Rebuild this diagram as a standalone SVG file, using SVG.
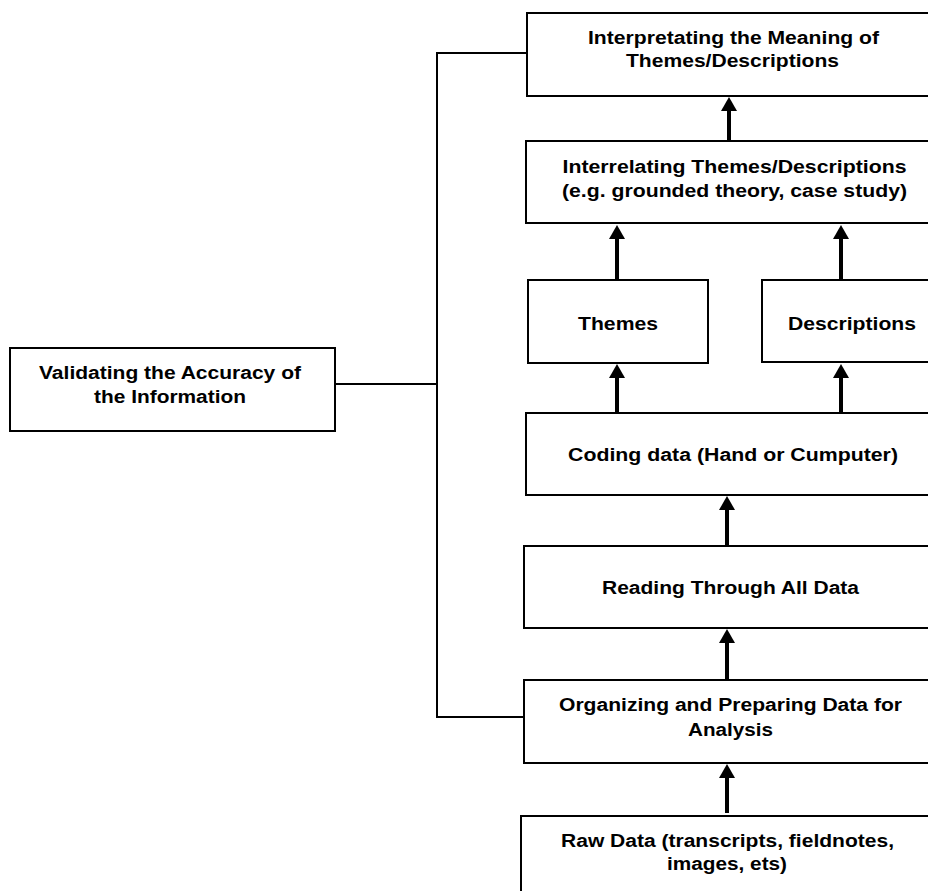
<svg xmlns="http://www.w3.org/2000/svg" width="928" height="891" viewBox="0 0 928 891">
  <style>
    .box { fill: #ffffff; stroke: #000000; stroke-width: 2; }
    .lbl { font-family: "Liberation Sans", Arial, sans-serif; font-weight: bold; font-size: 18px; fill: #000000; text-anchor: middle; }
    .link { fill: none; stroke: #000000; stroke-width: 2; }
    .arrow { fill: none; stroke: #000000; stroke-width: 4; marker-end: url(#head); }
  </style>
  <defs>
    <marker id="head" viewBox="0 0 14 16" markerWidth="14" markerHeight="16" refX="4" refY="8" orient="auto" markerUnits="userSpaceOnUse">
      <path d="M0,0 L14,8 L0,16 z" fill="#000000"/>
    </marker>
  </defs>
  <rect width="928" height="891" fill="#ffffff"/>

  <g id="connectors">
    <polyline class="link" points="527,53 437,53 437,717 524,717"/>
    <line class="link" x1="335" y1="384" x2="437" y2="384"/>
    <line class="arrow" x1="729" y1="141" x2="729" y2="107"/>
    <line class="arrow" x1="617" y1="280" x2="617" y2="235"/>
    <line class="arrow" x1="841" y1="280" x2="841" y2="235"/>
    <line class="arrow" x1="617" y1="413" x2="617" y2="374"/>
    <line class="arrow" x1="841" y1="413" x2="841" y2="374"/>
    <line class="arrow" x1="727" y1="546" x2="727" y2="506"/>
    <line class="arrow" x1="727" y1="679" x2="727" y2="639"/>
    <line class="arrow" x1="727" y1="813" x2="727" y2="774"/>
  </g>

  <g id="interpreting">
    <rect class="box" x="527" y="13" width="412" height="83"/>
    <text class="lbl" x="733.5" y="44" textLength="291" lengthAdjust="spacingAndGlyphs">Interpretating the Meaning of</text>
    <text class="lbl" x="732.5" y="67" textLength="213" lengthAdjust="spacingAndGlyphs">Themes/Descriptions</text>
  </g>

  <g id="interrelating">
    <rect class="box" x="526" y="141" width="415" height="82"/>
    <text class="lbl" x="734.5" y="173" textLength="344" lengthAdjust="spacingAndGlyphs">Interrelating Themes/Descriptions</text>
    <text class="lbl" x="734.5" y="197" textLength="345" lengthAdjust="spacingAndGlyphs">(e.g. grounded theory, case study)</text>
  </g>

  <g id="themes">
    <rect class="box" x="528" y="280" width="180" height="83"/>
    <text class="lbl" x="618" y="330" textLength="80" lengthAdjust="spacingAndGlyphs">Themes</text>
  </g>

  <g id="descriptions">
    <rect class="box" x="762" y="280" width="180" height="82"/>
    <text class="lbl" x="852" y="330" textLength="128" lengthAdjust="spacingAndGlyphs">Descriptions</text>
  </g>

  <g id="coding">
    <rect class="box" x="526" y="413" width="414" height="82"/>
    <text class="lbl" x="733" y="461" textLength="330" lengthAdjust="spacingAndGlyphs">Coding data (Hand or Cumputer)</text>
  </g>

  <g id="reading">
    <rect class="box" x="524" y="546" width="414" height="82"/>
    <text class="lbl" x="730.5" y="594" textLength="257" lengthAdjust="spacingAndGlyphs">Reading Through All Data</text>
  </g>

  <g id="organizing">
    <rect class="box" x="524" y="680" width="414" height="83"/>
    <text class="lbl" x="730.5" y="711" textLength="343" lengthAdjust="spacingAndGlyphs">Organizing and Preparing Data for</text>
    <text class="lbl" x="730.5" y="736" textLength="85" lengthAdjust="spacingAndGlyphs">Analysis</text>
  </g>

  <g id="raw">
    <rect class="box" x="521" y="816" width="414" height="90"/>
    <text class="lbl" x="727.5" y="847" textLength="333" lengthAdjust="spacingAndGlyphs">Raw Data (transcripts, fieldnotes,</text>
    <text class="lbl" x="727" y="870" textLength="120" lengthAdjust="spacingAndGlyphs">images, ets)</text>
  </g>

  <g id="validating">
    <rect class="box" x="10" y="348" width="325" height="83"/>
    <text class="lbl" x="170" y="379" textLength="262" lengthAdjust="spacingAndGlyphs">Validating the Accuracy of</text>
    <text class="lbl" x="170" y="403" textLength="152" lengthAdjust="spacingAndGlyphs">the Information</text>
  </g>
</svg>
